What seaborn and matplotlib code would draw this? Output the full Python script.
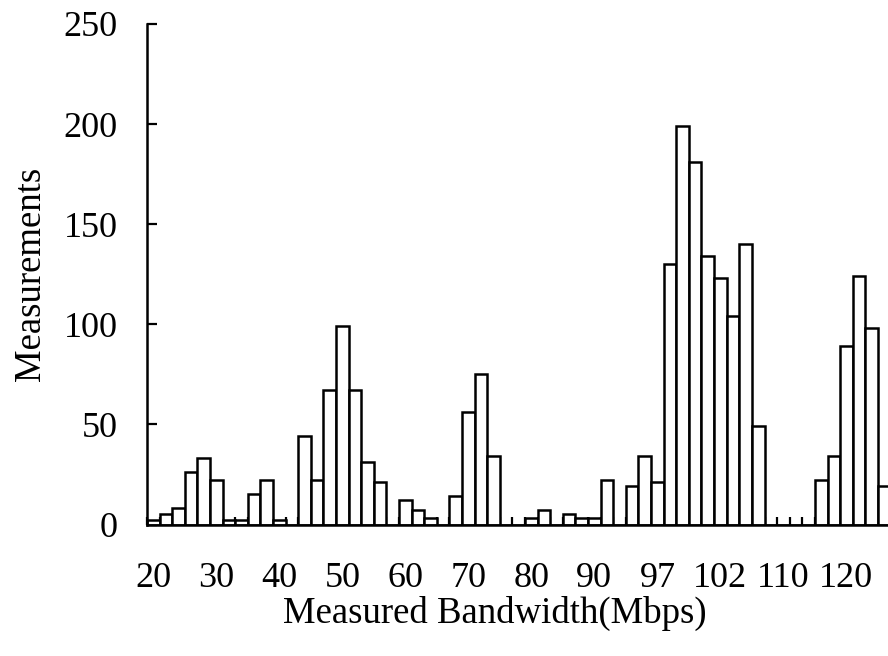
import matplotlib
matplotlib.use("Agg")
import matplotlib.pyplot as plt
import pandas as pd
import seaborn as sns
from matplotlib.ticker import FixedLocator

counts = [2, 5, 8, 26, 33, 22, 2, 2, 15, 22,
          2, 0, 44, 22, 67, 99, 67, 31, 21, 0,
          12, 7, 3, 0, 14, 56, 75, 34, 0, 0,
          3, 7, 0, 5, 3, 3, 22, 0, 19, 34,
          21, 130, 199, 181, 134, 123, 104, 140, 49, 0,
          0, 0, 0, 22, 34, 89, 124, 98, 19]

# one label every fifth bin
tick_labels = ["20", "30", "40", "50", "60", "70",
               "80", "90", "97", "102", "110", "120"]
y_ticks = [0, 50, 100, 150, 200, 250]

df = pd.DataFrame({"bin": range(len(counts)), "count": counts})

sns.set_style("white")
plt.rcParams["font.family"] = ["Liberation Serif", "DejaVu Serif"]
for key in ["text.color", "axes.labelcolor", "xtick.color", "ytick.color"]:
    plt.rcParams[key] = "black"

fig = plt.figure(figsize=(8.88, 6.56), dpi=100)
ax = fig.add_axes([147 / 888, 1 - 524.5 / 656, 741 / 888, 500.5 / 656])

sns.barplot(data=df, x="bin", y="count", color="white", saturation=1,
            edgecolor="black", linewidth=1.8, width=1.0, errorbar=None, ax=ax)

ax.set_xlim(-0.5, 58.3)
ax.set_ylim(0, 250)

# labels sit under every 5th bar, small ticks sit between bars
ax.xaxis.set_major_locator(FixedLocator(list(range(0, len(counts), 5))))
ax.set_xticklabels(tick_labels)
ax.xaxis.set_minor_locator(FixedLocator([i - 0.5 for i in range(len(counts) + 1)]))
ax.set_yticks(y_ticks)

ax.tick_params(axis="x", which="major", length=0, pad=27, labelsize=26)
ax.tick_params(axis="x", which="minor", direction="in", length=6, width=1.6,
               bottom=True, color="black")
ax.tick_params(axis="y", direction="in", length=7, width=1.6, pad=21,
               labelsize=26, left=True, color="black")

for side in ["top", "right"]:
    ax.spines[side].set_visible(False)
for side in ["left", "bottom"]:
    ax.spines[side].set_linewidth(1.8)
    ax.spines[side].set_color("black")

ax.set_xlabel("Measured Bandwidth(Mbps)", fontsize=26.5)
ax.set_ylabel("Measurements", fontsize=26.5)
ax.xaxis.set_label_coords(0.47, -0.142)
ax.yaxis.set_label_coords(-0.133, 0.5)

plt.savefig("out.png", dpi=100)
plt.close()
